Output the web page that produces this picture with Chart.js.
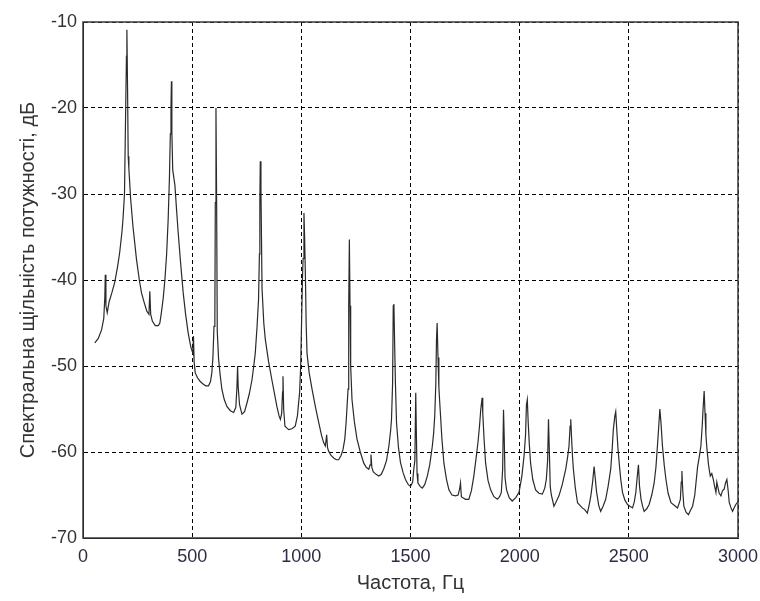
<!DOCTYPE html>
<html>
<head>
<meta charset="utf-8">
<script src="https://cdn.jsdelivr.net/npm/chart.js@4.4.1/dist/chart.umd.min.js"></script>
<style>
  html, body { margin: 0; padding: 0; background: #fff; }
  #psd { display: block; }
</style>
</head>
<body>
<canvas id="psd" width="760" height="601"></canvas>
<script>
// Power spectral density: frequency (Hz) and level (dB)
const freqs = [
  54, 70, 85, 95, 100, 102, 105, 111, 120, 132,
  145, 158, 168, 178, 183, 190, 195, 199, 201, 204,
  207, 210, 218, 229, 245, 258, 268, 280, 292, 302,
  306, 310, 318, 331, 345, 352, 359, 367, 375, 383,
  390, 396, 400, 403, 405, 407, 411, 421, 429, 436,
  447, 459, 470, 482, 494, 503, 506, 509, 514, 525,
  537, 550, 562, 575, 584, 590, 595, 600, 604, 606,
  609, 612, 615, 621, 628, 636, 647, 659, 675, 690,
  700, 705, 708, 711, 717, 728, 740, 751, 762, 774,
  782, 789, 797, 804, 808, 810, 812, 815, 817, 820,
  828, 835, 850, 865, 877, 888, 898, 904, 910, 914,
  916, 919, 925, 933, 942, 957, 972, 982, 992, 997,
  1001, 1005, 1008, 1012, 1015, 1019, 1022, 1026, 1036, 1049,
  1065, 1080, 1092, 1102, 1110, 1116, 1120, 1125, 1136, 1148,
  1160, 1171, 1182, 1191, 1199, 1205, 1211, 1214, 1217, 1220,
  1223, 1226, 1232, 1243, 1255, 1270, 1286, 1298, 1309, 1315,
  1319, 1323, 1329, 1342, 1355, 1366, 1377, 1390, 1401, 1409,
  1413, 1418, 1421, 1424, 1427, 1431, 1436, 1445, 1454, 1466,
  1477, 1490, 1500, 1510, 1515, 1520, 1524, 1527, 1530, 1534,
  1544, 1554, 1565, 1577, 1588, 1600, 1606, 1611, 1616, 1619,
  1622, 1626, 1630, 1635, 1644, 1653, 1665, 1676, 1690, 1706,
  1718, 1725, 1729, 1733, 1738, 1752, 1767, 1779, 1790, 1800,
  1809, 1816, 1822, 1828, 1831, 1837, 1844, 1855, 1867, 1882,
  1898, 1908, 1916, 1922, 1926, 1929, 1933, 1940, 1952, 1966,
  1982, 1997, 2010, 2020, 2027, 2031, 2035, 2039, 2044, 2050,
  2060, 2073, 2088, 2104, 2115, 2122, 2128, 2132, 2136, 2140,
  2145, 2157, 2165, 2180, 2195, 2211, 2220, 2226, 2231, 2234,
  2238, 2242, 2246, 2255, 2265, 2276, 2287, 2298, 2310, 2318,
  2326, 2334, 2341, 2346, 2352, 2362, 2371, 2382, 2394, 2405,
  2417, 2424, 2429, 2436, 2440, 2445, 2450, 2456, 2463, 2471,
  2482, 2494, 2505, 2517, 2525, 2532, 2538, 2544, 2549, 2556,
  2563, 2570, 2582, 2593, 2605, 2616, 2624, 2631, 2637, 2642,
  2647, 2654, 2662, 2670, 2680, 2693, 2708, 2723, 2730, 2736,
  2740, 2743, 2747, 2752, 2762, 2773, 2782, 2792, 2802, 2815,
  2823, 2830, 2836, 2840, 2845, 2849, 2853, 2858, 2865, 2873,
  2880, 2887, 2893, 2899, 2903, 2907, 2914, 2922, 2929, 2937,
  2943, 2949, 2955, 2960, 2968, 2975, 2982, 2990, 2996, 3000
];

const levels = [
  -47.3, -46.8, -45.8, -44.5, -42, -39.4, -43, -43.8, -42.5, -41.5,
  -40.3, -38.5, -36.8, -34.5, -33, -30, -21, -14, -10.9, -17.5,
  -25.6, -27, -30.5, -33.8, -37.6, -40, -41.5, -42.6, -43.6, -44,
  -41.3, -44, -44.8, -45.3, -45.3, -45, -43.8, -42.2, -40, -37,
  -33, -28, -23, -19.8, -16.9, -22.8, -27.2, -29, -32, -34.5,
  -38, -41.5, -44, -46.2, -47.8, -48.5, -46.5, -49.5, -50.8, -51.4,
  -51.8, -52.1, -52.3, -52.3, -51.8, -50.8, -49, -45.4, -44, -31,
  -20, -31, -46, -49.2, -51, -52.7, -53.9, -54.7, -55.2, -55.4,
  -54.8, -52.5, -50, -52.5, -54.5, -55.6, -55.3, -54.3, -53.2, -51.6,
  -50, -48.5, -45.5, -42.3, -37, -31, -26.2, -29.5, -34, -41,
  -45, -46.9, -49.5, -51.6, -53.2, -54.7, -55.8, -56.2, -55.5, -53,
  -51.2, -55, -57, -57.2, -57.4, -57.3, -57, -55.8, -53.1, -50,
  -45, -40, -37.5, -32.2, -35, -40, -45, -48.5, -50.8, -52.7,
  -54.8, -56.6, -58, -58.9, -59.3, -58, -59.5, -59.9, -60.4, -60.7,
  -60.9, -60.9, -60.4, -59.7, -58.5, -56.6, -54, -52.7, -43, -35.3,
  -43, -50, -53.9, -56.5, -58.5, -60, -61.3, -61.8, -62, -61.5,
  -60.3, -61.8, -62.3, -62.6, -62.8, -62.6, -62, -61, -59.3, -57.5,
  -56.2, -52, -43, -42.8, -47, -52, -56.6, -59.5, -61.2, -62.4,
  -63.2, -63.8, -64, -63.5, -62, -61, -53.1, -58, -62.5, -63.6,
  -64, -64.2, -63.8, -62.8, -61.5, -59.3, -57.8, -55.8, -52, -47,
  -45, -49, -52.5, -54.7, -58.5, -61.3, -63.2, -64.4, -65, -65.1,
  -65, -64.3, -63.6, -65.2, -65.3, -65.5, -65.5, -64.5, -62.8, -60.8,
  -58.9, -57, -55, -53.7, -55.5, -58.5, -61.3, -63.3, -64.4, -65.2,
  -65.5, -65.2, -64.7, -62, -55.1, -58, -63, -64.4, -65.3, -65.7,
  -65.3, -64.7, -62.8, -60.5, -58, -54.5, -53.9, -56.5, -59, -61.3,
  -63.2, -64.4, -64.8, -64.9, -64.2, -63.2, -61, -56.2, -60, -64,
  -65, -66.3, -65.9, -65.1, -63.8, -62, -60.5, -59.3, -57, -56.2,
  -58.5, -60.5, -62, -64.2, -65.9, -66.2, -66.5, -66.7, -67.1, -66.2,
  -65.1, -63.5, -61.7, -63, -64.6, -66.2, -66.9, -66.3, -65.5, -64,
  -62, -59.5, -57.4, -55.8, -55.3, -57.5, -59.5, -61.3, -63.2, -64.7,
  -65.6, -66.1, -66.3, -66.5, -65.8, -64.7, -63, -61.5, -64, -65.5,
  -66.3, -66.9, -66.6, -66.1, -65, -63.6, -61.8, -59.3, -57, -55,
  -56.5, -59.3, -61.5, -63.2, -64.8, -65.9, -66.2, -66.5, -66, -65.5,
  -63.5, -62.2, -64.5, -66.3, -67, -67.3, -66.8, -66.3, -65, -61.7,
  -60.5, -59.3, -57, -55, -52.9, -55.5, -58, -59.7, -61.5, -62.8,
  -62.5, -63.2, -64, -64.7, -63.5, -64, -64.8, -65.1, -64.5, -64.3,
  -63.6, -63.2, -64.5, -65.9, -66.5, -66.9, -66.5, -66.1, -65.9, -65.7
];

// axis ticks
const xTicks = [0, 500, 1000, 1500, 2000, 2500, 3000];
const yTicks = [-70, -60, -50, -40, -30, -20, -10];

const xLabel = "Частота, Гц";
const yLabel = "Спектральна щільність потужності, дБ";

const points = freqs.map((f, i) => ({ x: f, y: levels[i] }));

// box around the axes, like the matlab frame
const framePlugin = {
  id: "frame",
  afterDraw(chart) {
    const { ctx, chartArea: a } = chart;
    ctx.save();
    ctx.strokeStyle = "#3a3a3a";
    ctx.lineWidth = 1.5;
    ctx.setLineDash([]);
    ctx.strokeRect(a.left, a.top, a.right - a.left, a.bottom - a.top);
    ctx.restore();
  }
};

const tickFont = { family: "'Liberation Sans', Arial, sans-serif", size: 18 };
const titleFont = { family: "'Liberation Sans', Arial, sans-serif", size: 20 };

new Chart(document.getElementById("psd").getContext("2d"), {
  type: "line",
  data: {
    datasets: [{
      data: points,
      borderColor: "#2a2a2a",
      borderWidth: 1.2,
      pointRadius: 0,
      tension: 0,
      fill: false
    }]
  },
  options: {
    responsive: false,
    animation: false,
    layout: { padding: { top: 22, right: 22, left: 0, bottom: 0 } },
    plugins: {
      legend: { display: false },
      tooltip: { enabled: false }
    },
    scales: {
      x: {
        type: "linear",
        min: xTicks[0],
        max: xTicks[xTicks.length - 1],
        afterBuildTicks: s => { s.ticks = xTicks.map(v => ({ value: v })); },
        afterFit: s => { s.height = 63; s.paddingLeft = 0; s.paddingRight = 0; },
        ticks: { color: "#2f2b45", font: tickFont, padding: 8, maxRotation: 0, callback: v => String(v) },
        grid: { color: "#000", lineWidth: 1, drawTicks: false },
        border: { display: true, color: "#000", width: 1, dash: [4, 3] },
        title: { display: true, text: xLabel, color: "#333", font: titleFont, padding: { top: 0, bottom: 6 } }
      },
      y: {
        type: "linear",
        min: yTicks[0],
        max: yTicks[yTicks.length - 1],
        afterBuildTicks: s => { s.ticks = yTicks.map(v => ({ value: v })); },
        afterFit: s => { s.width = 83; s.paddingTop = 0; s.paddingBottom = 0; },
        ticks: { color: "#333", font: tickFont, padding: 6, callback: v => String(v) },
        grid: { color: "#000", lineWidth: 1, drawTicks: false },
        border: { display: true, color: "#000", width: 1, dash: [4, 3] },
        title: { display: true, text: yLabel, color: "#333", font: titleFont, padding: { top: 16, bottom: 0 } }
      }
    }
  },
  plugins: [framePlugin]
});
</script>
</body>
</html>
